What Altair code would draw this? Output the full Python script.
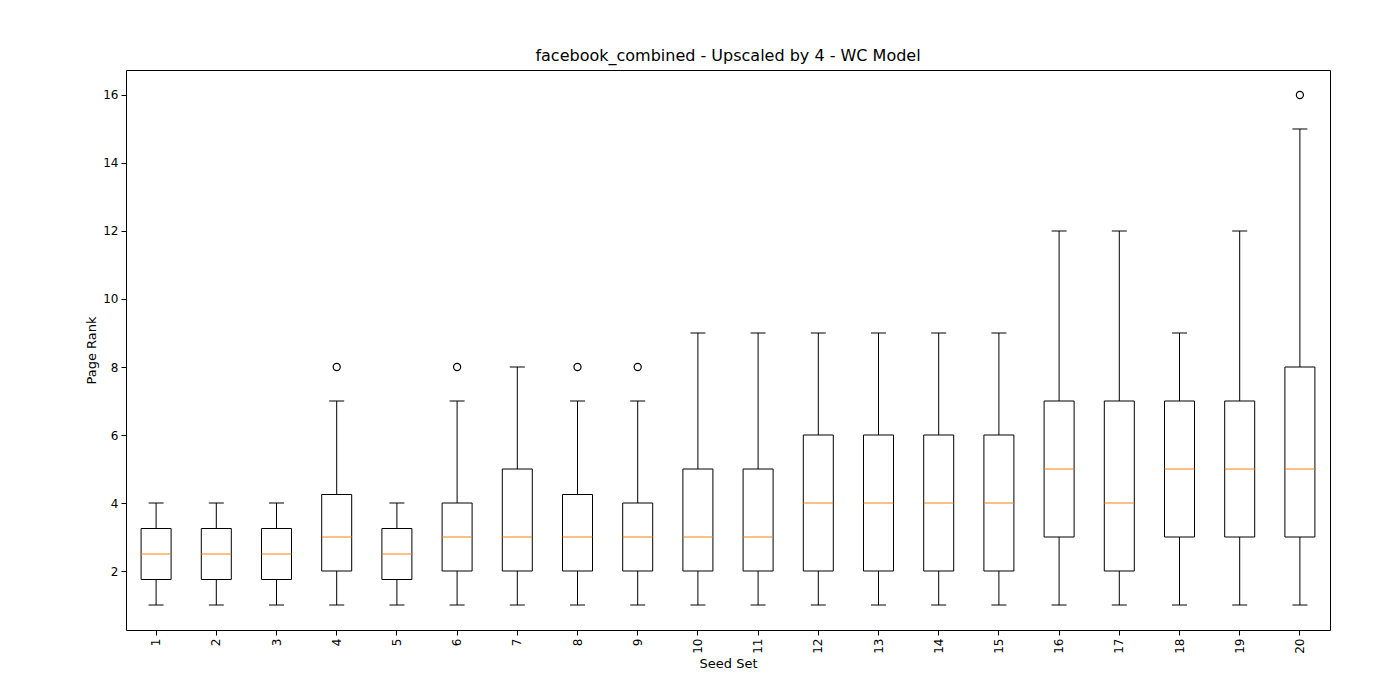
import altair as alt
import pandas as pd

seeds = [str(i) for i in range(1, 21)]
lo = [1] * 20
q1 = [1.75, 1.75, 1.75, 2, 1.75, 2, 2, 2, 2, 2, 2, 2, 2, 2, 2, 3, 2, 3, 3, 3]
med = [2.5, 2.5, 2.5, 3, 2.5, 3, 3, 3, 3, 3, 3, 4, 4, 4, 4, 5, 4, 5, 5, 5]
q3 = [3.25, 3.25, 3.25, 4.25, 3.25, 4, 5, 4.25, 4, 5, 5, 6, 6, 6, 6, 7, 7, 7, 7, 8]
hi = [4, 4, 4, 7, 4, 7, 8, 7, 7, 9, 9, 9, 9, 9, 9, 12, 12, 9, 12, 15]
out_seed = ["4", "6", "8", "9", "20"]
out_val = [8, 8, 8, 8, 16]

df = pd.DataFrame({"seed": seeds, "lo": lo, "q1": q1, "med": med, "q3": q3, "hi": hi})
odf = pd.DataFrame({"seed": out_seed, "v": out_val})

font = "DejaVu Sans"
x = alt.X("seed:N", sort=seeds, title="Seed Set",
          scale=alt.Scale(paddingInner=0, paddingOuter=0),
          axis=alt.Axis(labelAngle=270, labelFontSize=12, titleFontSize=13, labelFont=font,
                        titleFont=font, tickColor="black", domain=False, labelColor="black",
                        titleFontWeight="normal", labelBaseline="middle", labelAlign="right"))
yscale = alt.Scale(domain=[0.265, 16.735], nice=False, zero=False)
yax = alt.Axis(values=[2, 4, 6, 8, 10, 12, 14, 16], labelFontSize=12, titleFontSize=13,
               labelFont=font, titleFont=font, tickColor="black", domain=False, grid=False,
               labelColor="black", titleFontWeight="normal")

base = alt.Chart(df).encode(x=x)
whisk_lo = base.mark_rule(color="black").encode(
    y=alt.Y("lo:Q", scale=yscale, axis=yax, title="Page Rank"), y2="q1:Q")
whisk_hi = base.mark_rule(color="black").encode(y=alt.Y("q3:Q", scale=yscale), y2="hi:Q")
cap_lo = base.mark_tick(color="black", size=15, thickness=1, orient="horizontal", opacity=1).encode(
    y=alt.Y("lo:Q", scale=yscale))
cap_hi = base.mark_tick(color="black", size=15, thickness=1, orient="horizontal", opacity=1).encode(
    y=alt.Y("hi:Q", scale=yscale))
box = base.mark_bar(fill="white", stroke="black", strokeWidth=1, size=30).encode(
    y=alt.Y("q1:Q", scale=yscale), y2="q3:Q")
median = base.mark_tick(color="#ff7f0e", size=30, thickness=1, orient="horizontal", opacity=1).encode(
    y=alt.Y("med:Q", scale=yscale))
outl = alt.Chart(odf).mark_point(shape="circle", filled=False, color="black", size=50,
                                 strokeWidth=1.2, opacity=1).encode(
    x=alt.X("seed:N", sort=seeds), y=alt.Y("v:Q", scale=yscale))

chart = alt.layer(whisk_lo, whisk_hi, cap_lo, cap_hi, box, median, outl).properties(
    width=1204, height=560,
    autosize=alt.AutoSizeParams(type="none"),
    padding={"left": 118, "top": 62, "right": 60, "bottom": 60},
    title=alt.TitleParams("facebook_combined - Upscaled by 4 - WC Model", font=font,
                          fontSize=16, fontWeight="normal", color="black", offset=6),
).configure_view(stroke="black", strokeWidth=1).configure_axis(tickSize=5, labelPadding=3)

chart.save("out.html", embed_options={"renderer": "svg", "actions": False})
